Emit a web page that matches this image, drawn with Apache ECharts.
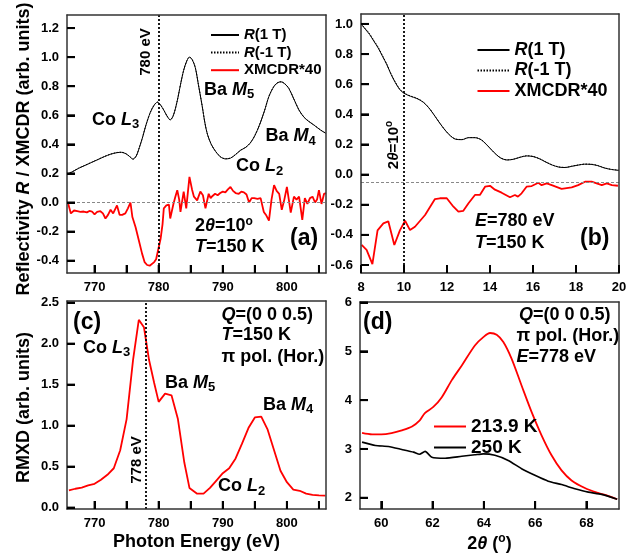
<!DOCTYPE html>
<html><head><meta charset="utf-8">
<script src="https://cdn.jsdelivr.net/npm/echarts@6/dist/echarts.min.js"></script>
<style>html,body{margin:0;padding:0;background:#fff}#c{width:644px;height:557px}</style>
</head><body><div id="c"></div>
<script>
const FONT = '"Liberation Sans", Arial, Helvetica, sans-serif';

// ---- Panel (a): reflectivity vs photon energy ----
const aX = [765.7,766.5,767.5,768.5,769.5,770.5,771.5,772.5,773.5,774.2,774.9,775.5,776.0,776.5,777.0,777.5,778.0,778.7,779.3,779.8,780.3,780.8,781.3,781.8,782.3,782.9,783.4,783.9,784.4,784.8,785.2,785.7,786.2,786.8,787.2,787.6,788.2,788.9,789.6,790.4,791.2,792.0,792.8,793.6,794.3,795.0,795.7,796.5,797.2,798.0,798.6,799.1,799.7,800.3,801.0,801.9,802.7,803.5,804.3,805.2,806.1];
const aR1 = [0.195,0.21,0.235,0.255,0.275,0.295,0.315,0.332,0.343,0.345,0.335,0.315,0.298,0.32,0.38,0.45,0.53,0.62,0.67,0.69,0.67,0.635,0.595,0.568,0.60,0.70,0.81,0.91,0.975,1.0,0.985,0.93,0.81,0.66,0.55,0.47,0.40,0.35,0.315,0.30,0.305,0.33,0.36,0.38,0.41,0.46,0.53,0.63,0.73,0.80,0.825,0.83,0.815,0.785,0.72,0.635,0.585,0.555,0.53,0.50,0.475];
const aRm1 = [0.197,0.212,0.236,0.256,0.276,0.296,0.316,0.333,0.344,0.346,0.336,0.316,0.299,0.321,0.381,0.451,0.531,0.621,0.671,0.691,0.671,0.636,0.596,0.569,0.601,0.701,0.811,0.911,0.976,1.0,0.986,0.931,0.811,0.661,0.551,0.471,0.401,0.351,0.316,0.301,0.306,0.331,0.361,0.381,0.411,0.461,0.531,0.631,0.731,0.801,0.826,0.831,0.816,0.786,0.721,0.636,0.586,0.556,0.531,0.501,0.476];
const aMX = [765.9,766.3,766.8,767.3,767.8,768.3,768.8,769.2,769.6,770.0,770.4,770.9,771.3,771.7,772.1,772.5,772.9,773.2,773.5,773.9,774.3,774.8,775.2,775.6,775.9,776.4,776.9,777.4,777.8,778.2,778.6,778.9,779.3,779.6,780.0,780.3,780.6,780.8,781.2,781.6,781.8,782.3,782.6,782.9,783.2,783.4,783.9,784.3,784.8,785.2,785.5,786.0,786.5,786.9,787.3,787.8,788.1,788.4,788.8,789.2,789.6,790.0,790.4,790.8,791.2,791.6,792.0,792.5,792.9,793.3,793.7,794.1,794.5,794.9,795.4,795.9,796.4,796.8,797.2,797.6,798.0,798.4,798.8,799.2,799.6,800.0,800.3,800.6,801.1,801.5,801.9,802.4,802.8,803.2,803.6,804.0,804.4,804.7,805.0,805.4,805.8,806.1];
const aMY = [-0.01,-0.075,-0.055,-0.06,-0.065,-0.062,-0.068,-0.058,-0.062,-0.082,-0.065,-0.06,-0.075,-0.11,-0.085,-0.05,-0.075,-0.08,-0.02,-0.085,-0.085,-0.075,-0.04,0.0,-0.10,-0.17,-0.26,-0.35,-0.41,-0.43,-0.435,-0.445,-0.41,-0.39,-0.31,-0.25,-0.15,-0.04,-0.02,-0.015,-0.11,-0.01,0.04,0.085,0.02,-0.065,0.075,-0.04,0.176,0.09,0.04,0.015,0.075,0.05,-0.04,0.06,0.03,0.045,0.06,0.05,0.065,0.075,0.07,0.09,0.107,0.08,0.065,0.06,0.075,0.07,0.055,0.0,0.03,0.03,0.025,0.03,-0.065,-0.09,-0.125,0.02,0.12,0.08,0.06,-0.05,0.02,0.107,0.02,-0.07,0.04,0.02,0.04,-0.12,0.03,-0.01,0.03,0.04,0.0,0.02,0.085,-0.01,0.06,0.065];
const aXTickLabels = [770,780,790,800];
const aXTicks = [770,775,780,785,790,795,800,805];
const aYTickLabels = [-0.4,-0.2,0,0.2,0.4,0.6,0.8,1.0,1.2];

// ---- Panel (b): reflectivity vs 2theta ----
const bX = [8.0,8.2,8.4,8.6,8.8,9.0,9.2,9.4,9.6,9.8,10.0,10.3,10.6,10.9,11.2,11.5,11.8,12.1,12.4,12.7,13.0,13.3,13.6,13.9,14.2,14.5,14.8,15.1,15.4,15.7,16.0,16.3,16.6,16.9,17.2,17.5,17.8,18.1,18.4,18.7,19.0,19.3,19.6,20.0];
const bR1 = [1.0,0.965,0.93,0.885,0.84,0.785,0.73,0.665,0.61,0.565,0.54,0.52,0.505,0.48,0.435,0.375,0.315,0.265,0.235,0.232,0.245,0.245,0.23,0.19,0.145,0.11,0.097,0.102,0.115,0.124,0.12,0.105,0.083,0.063,0.05,0.047,0.055,0.063,0.069,0.068,0.06,0.045,0.035,0.028];
const bRm1 = [1.0,0.97,0.935,0.89,0.845,0.79,0.733,0.668,0.613,0.568,0.542,0.522,0.507,0.481,0.436,0.376,0.316,0.266,0.236,0.233,0.246,0.246,0.231,0.191,0.146,0.111,0.098,0.103,0.116,0.125,0.121,0.106,0.084,0.064,0.051,0.048,0.056,0.064,0.07,0.069,0.061,0.046,0.036,0.029];
const bMX = [8.03,8.26,8.53,8.77,9.04,9.27,9.55,9.81,10.05,10.28,10.51,10.98,11.44,11.67,11.99,12.3,12.53,12.76,13.0,13.3,13.53,13.77,14.0,14.23,14.54,14.93,15.16,15.3,15.47,15.7,15.94,16.25,16.4,16.64,16.87,17.33,17.8,18.1,18.42,18.73,18.96,19.2,19.43,19.67,19.95];
const bMY = [-0.467,-0.50,-0.594,-0.37,-0.324,-0.31,-0.467,-0.37,-0.306,-0.368,-0.346,-0.268,-0.162,-0.157,-0.157,-0.213,-0.246,-0.24,-0.19,-0.135,-0.135,-0.08,-0.074,-0.10,-0.12,-0.15,-0.135,-0.146,-0.124,-0.08,-0.076,-0.054,-0.07,-0.058,-0.07,-0.095,-0.085,-0.07,-0.047,-0.047,-0.058,-0.07,-0.058,-0.07,-0.074];
const bXTickLabels = [8,10,12,14,16,18,20];
const bYTickLabels = [-0.6,-0.4,-0.2,0,0.2,0.4,0.6,0.8,1.0];

// ---- Panel (c): RMXD vs photon energy ----
const cX = [766,767,768,769,770,771,772,773,774,775,776,776.9,777.7,778.5,779.3,780,781,782,783,784,784.8,786,787,788,789,790,791,792,793,794,795,796,797,798,799,800,801,802,803,804,805,806];
const cY = [0.21,0.23,0.245,0.27,0.29,0.34,0.40,0.48,0.70,1.08,1.80,2.29,2.20,1.80,1.52,1.29,1.39,1.37,1.08,0.55,0.24,0.17,0.17,0.24,0.33,0.42,0.48,0.60,0.78,0.97,1.10,1.11,0.95,0.70,0.45,0.31,0.22,0.205,0.17,0.155,0.15,0.147];
const cYTickLabels = [0,0.5,1.0,1.5,2.0,2.5];

// ---- Panel (d): RMXD vs 2theta ----
const dRX = [59.25,59.64,60.0,60.4,60.8,61.2,61.5,61.7,62.03,62.36,62.75,63.14,63.65,63.98,64.24,64.5,64.76,65.08,65.47,65.86,66.25,66.64,67.03,67.42,67.94,68.45,68.84,69.2];
const dRY = [3.33,3.30,3.30,3.325,3.38,3.46,3.585,3.735,3.86,4.06,4.41,4.71,5.12,5.29,5.375,5.34,5.19,4.85,4.30,3.76,3.28,2.87,2.56,2.355,2.20,2.10,2.04,1.97];
const dBX = [59.25,59.77,60.28,60.8,61.26,61.49,61.71,61.97,62.49,63.14,63.65,63.98,64.43,64.95,65.47,65.99,66.51,67.03,67.55,68.07,68.59,69.2];
const dBY = [3.14,3.07,3.05,2.99,2.935,2.89,2.95,2.83,2.81,2.85,2.88,2.90,2.87,2.765,2.595,2.46,2.34,2.27,2.185,2.115,2.07,1.97];
const dXTickLabels = [60,62,64,66,68];
const dYTickLabels = [2,3,4,5,6];

function pairs(xs, ys){ return xs.map((x,i)=>[x, ys[i]]); }

const chart = echarts.init(document.getElementById('c'), null, {renderer:'canvas'});

const FRAME = {color:'#333', width:1.5};
function axis(gridIndex, min, max, labels, ticks, fmt, extra){
  return Object.assign({
    type:'value', gridIndex, min, max, z:5,
    axisLine:{show:true, onZero:false, lineStyle:FRAME},
    splitLine:{show:false},
    axisTick:{show:true, inside:true, length:8, customValues:ticks, lineStyle:{color:'#000', width:2}},
    axisLabel:{show:true, customValues:labels, fontSize:13, fontWeight:'bold', fontFamily:FONT, color:'#000', margin:8, formatter:fmt}
  }, extra||{});
}
function frameAxis(gridIndex, min, max, position){
  return {type:'value', gridIndex, min, max, position, z:5,
    axisLine:{show:true, onZero:false, lineStyle:FRAME},
    splitLine:{show:false}, axisTick:{show:false}, axisLabel:{show:false}};
}
const f1 = v => Number(v).toFixed(1);
const f0 = v => String(Math.round(v));

// inward tick marks drawn through the axes' own scales
function tickSeries(idx, values, dir, anchor){
  return {
    type:'custom', xAxisIndex:idx, yAxisIndex:idx, silent:true, clip:false, z:6,
    encode:{x:0, y:1},
    data: values.map(v => dir === 'x' ? [v, anchor] : [anchor, v]),
    renderItem:(params, api) => {
      const p = api.coord([api.value(0), api.value(1)]);
      const L = 8;
      const shape = dir === 'x' ? {x1:p[0], y1:p[1], x2:p[0], y2:p[1]-L} : {x1:p[0], y1:p[1], x2:p[0]+L, y2:p[1]};
      return {type:'line', shape, style:{stroke:'#000', lineWidth:2}};
    }
  };
}

const richBase = (size) => ({
  n:{fontSize:size, fontWeight:'bold', fontFamily:FONT, fill:'#000', lineHeight:size+4},
  i:{fontSize:size, fontWeight:'bold', fontStyle:'italic', fontFamily:FONT, fill:'#000', lineHeight:size+4},
  s:{fontSize:Math.round(size*0.72), fontWeight:'bold', fontFamily:FONT, fill:'#000', lineHeight:Math.round(size*0.66), verticalAlign:'bottom'},
  p:{fontSize:Math.round(size*0.68), fontWeight:'bold', fontFamily:FONT, fill:'#000', lineHeight:Math.round(size*0.6), verticalAlign:'top'}
});
function txt(x, y, text, size, opt){
  opt = opt || {};
  return {
    type:'text', x, y, rotation: opt.rot || 0, silent:true, z:100,
    style:{text, rich:richBase(size), fontSize:size, fontWeight:'bold', fontFamily:FONT, fill:'#000',
      align: opt.align || 'left', verticalAlign:'middle'}
  };
}
const R90 = Math.PI/2;

const graphics = [
  txt(24, 149, '{n|Reflectivity }{i|R}{n| / XMCDR (arb. units)}', 18, {rot:R90, align:'center'}),
  txt(24, 407.5, '{n|RMXD (arb. units)}', 18, {rot:R90, align:'center'}),
  txt(92, 120, '{n|Co }{i|L}{s|3}', 18),
  txt(204, 90, '{n|Ba }{i|M}{s|5}', 18),
  txt(265.5, 136.5, '{n|Ba }{i|M}{s|4}', 18),
  txt(236, 166.5, '{n|Co }{i|L}{s|2}', 18),
  txt(195, 226.5, '{n|2}{i|θ}{n|=10}{p|o}', 18),
  txt(195, 247.5, '{i|T}{n|=150 K}', 18),
  txt(290, 239, '{n|(a)}', 23),
  txt(146, 52, '{n|780 eV}', 15, {rot:R90, align:'center'}),
  txt(475, 221.5, '{i|E}{n|=780 eV}', 18),
  txt(475, 243.5, '{i|T}{n|=150 K}', 18),
  txt(580, 239, '{n|(b)}', 23),
  txt(394, 145, '{n|2}{i|θ}{n|=10}{p|o}', 15, {rot:R90, align:'center'}),
  txt(73, 323, '{n|(c)}', 23),
  txt(83, 348, '{n|Co }{i|L}{s|3}', 18),
  txt(165, 383, '{n|Ba }{i|M}{s|5}', 18),
  txt(263, 405, '{n|Ba }{i|M}{s|4}', 18),
  txt(218, 486.5, '{n|Co }{i|L}{s|2}', 18),
  txt(313, 315, '{i|Q}{n|=(0 0 0.5)}', 18, {align:'right'}),
  txt(221.5, 335.5, '{i|T}{n|=150 K}', 18),
  txt(221.5, 357.5, '{n|π pol. (Hor.)}', 18),
  txt(137, 460, '{n|778 eV}', 15, {rot:R90, align:'center'}),
  txt(363, 323, '{n|(d)}', 23),
  txt(519, 315, '{i|Q}{n|=(0 0 0.5)}', 18),
  txt(516.5, 336.5, '{n|π pol. (Hor.)}', 18),
  txt(516.5, 357.5, '{i|E}{n|=778 eV}', 18)
];

const noLbl = {show:false};
const ml = (data, color, type, width) => ({silent:true, symbol:['none','none'], label:noLbl, animation:false,
  lineStyle:{color, type, width}, emphasis:{disabled:true}, data});

const legendRich = (size) => ({i:{fontStyle:'italic', fontWeight:'bold', fontSize:size, fontFamily:FONT, color:'#000', lineHeight:size+1}});
const legendFmt = name => name.replace(/^R\(/, '{i|R}(');
const legendItemStyle = {opacity:0, borderWidth:0};

const ext = {
  a:{x:[765.7, 806.1], y:[-0.485, 1.29]},
  b:{x:[8, 20], y:[-0.653, 1.066]},
  c:{x:[765.7, 806.1], y:[-0.017, 2.52]},
  d:{x:[59.17, 69.27], y:[1.77, 6.01]}
};

const option = {
  animation:false,
  backgroundColor:'#fff',
  grid:[
    {left:67, top:15, width:259, height:258, show:false},
    {left:361, top:14, width:258, height:259, show:false},
    {left:67, top:301, width:259, height:208, show:false},
    {left:360, top:302, width:259, height:207, show:false}
  ],
  xAxis:[
    axis(0, ext.a.x[0], ext.a.x[1], aXTickLabels, aXTicks, f0, {position:'bottom'}),
    axis(1, ext.b.x[0], ext.b.x[1], bXTickLabels, bXTickLabels, f0, {position:'bottom'}),
    axis(2, ext.c.x[0], ext.c.x[1], aXTickLabels, aXTicks, f0, {position:'bottom',
      name:'Photon Energy (eV)', nameLocation:'middle', nameGap:24,
      nameTextStyle:{fontSize:18, fontWeight:'bold', fontFamily:FONT, color:'#000'}}),
    axis(3, ext.d.x[0], ext.d.x[1], dXTickLabels, dXTickLabels, f0, {position:'bottom',
      name:'{n|2}{i|θ}{n| (}{p|o}{n|)}', nameLocation:'middle', nameGap:24,
      nameTextStyle:{fontSize:18, fontWeight:'bold', fontFamily:FONT, color:'#000', rich:{
        n:{fontSize:18, fontWeight:'bold', fontFamily:FONT, color:'#000', lineHeight:22},
        i:{fontSize:18, fontWeight:'bold', fontStyle:'italic', fontFamily:FONT, color:'#000', lineHeight:22},
        p:{fontSize:12, fontWeight:'bold', fontFamily:FONT, color:'#000', lineHeight:12, verticalAlign:'top'}
      }}}),
    frameAxis(0, ext.a.x[0], ext.a.x[1], 'top'),
    frameAxis(1, ext.b.x[0], ext.b.x[1], 'top'),
    frameAxis(2, ext.c.x[0], ext.c.x[1], 'top'),
    frameAxis(3, ext.d.x[0], ext.d.x[1], 'top')
  ],
  yAxis:[
    axis(0, ext.a.y[0], ext.a.y[1], aYTickLabels, aYTickLabels, f1, {position:'left'}),
    axis(1, ext.b.y[0], ext.b.y[1], bYTickLabels, bYTickLabels, f1, {position:'left'}),
    axis(2, ext.c.y[0], ext.c.y[1], cYTickLabels, cYTickLabels, f1, {position:'left'}),
    axis(3, ext.d.y[0], ext.d.y[1], dYTickLabels, dYTickLabels, f0, {position:'left'}),
    frameAxis(0, ext.a.y[0], ext.a.y[1], 'right'),
    frameAxis(1, ext.b.y[0], ext.b.y[1], 'right'),
    frameAxis(2, ext.c.y[0], ext.c.y[1], 'right'),
    frameAxis(3, ext.d.y[0], ext.d.y[1], 'right')
  ],
  legend:[
    {orient:'vertical', left:205, top:22, itemWidth:28, itemHeight:8, itemGap:1.6, itemStyle:legendItemStyle,
     data:['R(1 T)','R(-1 T)','XMCDR*40'], formatter:legendFmt, selectedMode:false,
     textStyle:{fontSize:15, fontWeight:'bold', fontFamily:FONT, color:'#000', lineHeight:16, rich:legendRich(15)}},
    {orient:'vertical', left:471.5, top:35, itemWidth:32, itemHeight:8, itemGap:0.5, itemStyle:legendItemStyle,
     data:['R(1 T)','R(-1 T)','XMCDR*40'], formatter:legendFmt, selectedMode:false,
     textStyle:{fontSize:18, fontWeight:'bold', fontFamily:FONT, color:'#000', lineHeight:20, rich:legendRich(18)}},
    {orient:'vertical', left:428, top:411, itemWidth:32, itemHeight:8, itemGap:0, itemStyle:legendItemStyle,
     data:['213.9 K','250 K'], selectedMode:false,
     textStyle:{fontSize:19, fontWeight:'bold', fontFamily:FONT, color:'#000', lineHeight:21}}
  ],
  graphic: graphics,
  series:[
    {name:'R(1 T)', type:'line', xAxisIndex:0, yAxisIndex:0, data:pairs(aX, aR1), symbol:'none', smooth:0.3,
     lineStyle:{color:'#000', width:1}, itemStyle:{color:'#000'}, z:3,
     markLine: ml([{xAxis:780}], '#000', [2,2], 1.8)},
    {name:'R(-1 T)', type:'line', xAxisIndex:0, yAxisIndex:0, data:pairs(aX, aRm1), symbol:'none', smooth:0.3,
     lineStyle:{color:'#000', width:1, type:[1.5,1.5]}, itemStyle:{color:'#000'}, z:3},
    {name:'XMCDR*40', type:'line', xAxisIndex:0, yAxisIndex:0, data:pairs(aMX, aMY), symbol:'none',
     lineStyle:{color:'#ff0000', width:1.8}, itemStyle:{color:'#ff0000'}, z:2,
     markLine: ml([{yAxis:0}], '#888', [3,2], 1)},
    {name:'R(1 T)', type:'line', xAxisIndex:1, yAxisIndex:1, data:pairs(bX, bR1), symbol:'none', smooth:0.3,
     lineStyle:{color:'#000', width:1}, itemStyle:{color:'#000'}, z:3,
     markLine: ml([{xAxis:10}], '#000', [2,2], 1.8)},
    {name:'R(-1 T)', type:'line', xAxisIndex:1, yAxisIndex:1, data:pairs(bX, bRm1), symbol:'none', smooth:0.3,
     lineStyle:{color:'#000', width:1, type:[1.5,1.5]}, itemStyle:{color:'#000'}, z:3},
    {name:'XMCDR*40', type:'line', xAxisIndex:1, yAxisIndex:1, data:pairs(bMX, bMY), symbol:'none',
     lineStyle:{color:'#ff0000', width:1.8}, itemStyle:{color:'#ff0000'}, z:2,
     markLine: ml([{yAxis:-0.05}], '#888', [3,2], 1)},
    {name:'RMXD', type:'line', xAxisIndex:2, yAxisIndex:2, data:pairs(cX, cY), symbol:'none',
     lineStyle:{color:'#ff0000', width:1.8}, itemStyle:{color:'#ff0000'},
     markLine: ml([{xAxis:778}], '#000', [2,2], 1.8)},
    {name:'213.9 K', type:'line', xAxisIndex:3, yAxisIndex:3, data:pairs(dRX, dRY), symbol:'none', smooth:0.3,
     lineStyle:{color:'#ff0000', width:1.8}, itemStyle:{color:'#ff0000'}},
    {name:'250 K', type:'line', xAxisIndex:3, yAxisIndex:3, data:pairs(dBX, dBY), symbol:'none', smooth:0.2,
     lineStyle:{color:'#000', width:1.6}, itemStyle:{color:'#000'}},
    tickSeries(0, aXTicks, 'x', ext.a.y[0]),
    tickSeries(0, aYTickLabels, 'y', ext.a.x[0]),
    tickSeries(1, bXTickLabels, 'x', ext.b.y[0]),
    tickSeries(1, bYTickLabels, 'y', ext.b.x[0]),
    tickSeries(2, aXTicks, 'x', ext.c.y[0]),
    tickSeries(2, cYTickLabels, 'y', ext.c.x[0]),
    tickSeries(3, dXTickLabels, 'x', ext.d.y[0]),
    tickSeries(3, dYTickLabels, 'y', ext.d.x[0])
  ]
};
chart.setOption(option);
</script>
</body></html>
